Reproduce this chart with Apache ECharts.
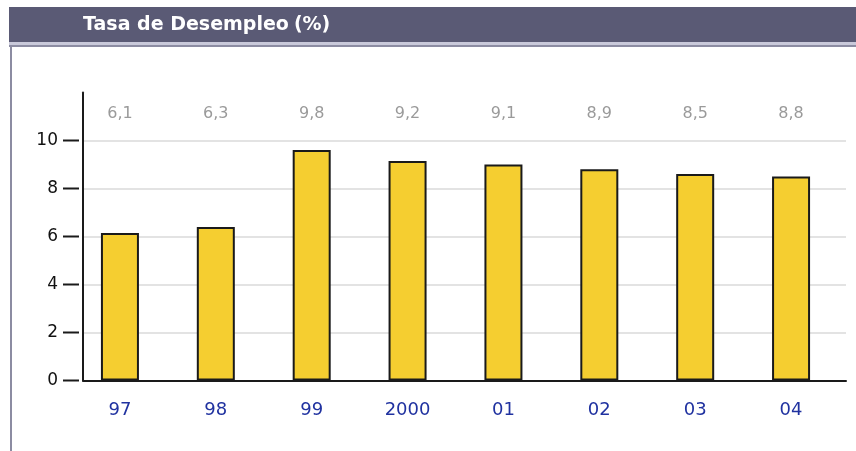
<!DOCTYPE html>
<html>
<head>
<meta charset="utf-8">
<script src="https://cdn.jsdelivr.net/npm/echarts@6/dist/echarts.min.js"></script>
<style>
  html, body { margin: 0; padding: 0; background: #fff; }
  #chart { width: 856px; height: 451px; }
</style>
</head>
<body>
<div id="chart"></div>
<script>
// datos
const anios = ['97', '98', '99', '2000', '01', '02', '03', '04']
// altura de cada barra tal como se dibuja
const valores = [6.15, 6.4, 9.6, 9.15, 9.0, 8.8, 8.6, 8.5]
// cifras impresas sobre el grafico
const etiquetas = ['6,1', '6,3', '9,8', '9,2', '9,1', '8,9', '8,5', '8,8']
const ejeMax = 12
const ejeIntervalo = 2

const FONT = 'DejaVu Sans, Verdana, sans-serif'
const chart = echarts.init(document.getElementById('chart'))

// grid 0: ejes y lineas de division; grid 1: barras y textos
const gridTop = 92.5
const gridBottom = 70.5

chart.setOption({
  animation: false,
  backgroundColor: '#fff',
  title: {
    text: '{b|Tasa de Desempleo} {n|(%)}',
    left: 83,
    top: 16,
    padding: 0,
    textStyle: {
      rich: {
        b: { fontFamily: FONT, fontWeight: 'bold', fontSize: 19, color: '#fff' },
        n: { fontFamily: FONT, fontSize: 19, color: '#fff' },
      },
    },
  },
  graphic: [
    { type: 'rect', z: -1, shape: { x: 9, y: 7, width: 847, height: 35 }, style: { fill: '#5a5a75' } },
    { type: 'rect', z: -1, shape: { x: 9, y: 42, width: 847, height: 3 }, style: { fill: '#c9c9da' } },
    { type: 'rect', z: -1, shape: { x: 9, y: 45, width: 847, height: 2 }, style: { fill: '#8c8ca2' } },
    { type: 'rect', z: -1, shape: { x: 10, y: 45, width: 2, height: 406 }, style: { fill: '#8c8ca2' } },
  ],
  grid: [
    { left: 83, right: 10, top: gridTop, bottom: gridBottom },
    { left: 72, width: 767, top: gridTop, bottom: gridBottom },
  ],
  xAxis: [
    {
      gridIndex: 0,
      type: 'value',
      min: 0,
      max: 1,
      axisLine: { show: true, onZero: false, lineStyle: { color: '#1a1a1a', width: 2 } },
      axisTick: { show: false },
      axisLabel: { show: false },
      splitLine: { show: false },
    },
    {
      gridIndex: 1,
      type: 'category',
      data: anios,
      axisLine: { show: false },
      axisTick: { show: false },
      axisLabel: { margin: 21, color: '#2032a0', fontFamily: FONT, fontSize: 18 },
    },
    {
      gridIndex: 1,
      type: 'category',
      position: 'top',
      data: etiquetas,
      axisLine: { show: false },
      axisTick: { show: false },
      axisLabel: { inside: true, margin: 13, color: '#9a9a9a', fontFamily: FONT, fontSize: 16 },
    },
  ],
  yAxis: [
    {
      gridIndex: 0,
      type: 'value',
      min: 0,
      max: ejeMax,
      interval: ejeIntervalo,
      axisLine: { show: true, onZero: false, lineStyle: { color: '#1a1a1a', width: 2 } },
      axisTick: { show: false },
      axisLabel: {
        margin: 4,
        formatter: v => (v === ejeMax ? '' : '{n|' + v + '}{t|}'),
        rich: {
          n: { fontFamily: FONT, fontSize: 17, color: '#111', padding: [0, 5, 0, 0] },
          t: { width: 16, height: 2, backgroundColor: '#1a1a1a' },
        },
      },
      splitLine: {
        show: true,
        lineStyle: {
          width: 1.5,
          color: ['#dadada', '#dadada', '#dadada', '#dadada', '#dadada', '#dadada', 'rgba(0,0,0,0)'],
        },
      },
    },
    {
      gridIndex: 1,
      type: 'value',
      min: 0,
      max: ejeMax,
      show: false,
    },
  ],
  series: [
    {
      type: 'bar',
      xAxisIndex: 1,
      yAxisIndex: 1,
      data: valores,
      barWidth: 38,
      itemStyle: { color: '#f5ce30', borderColor: '#1a1a1a', borderWidth: 2 },
      z: 3,
    },
  ],
})
</script>
</body>
</html>
